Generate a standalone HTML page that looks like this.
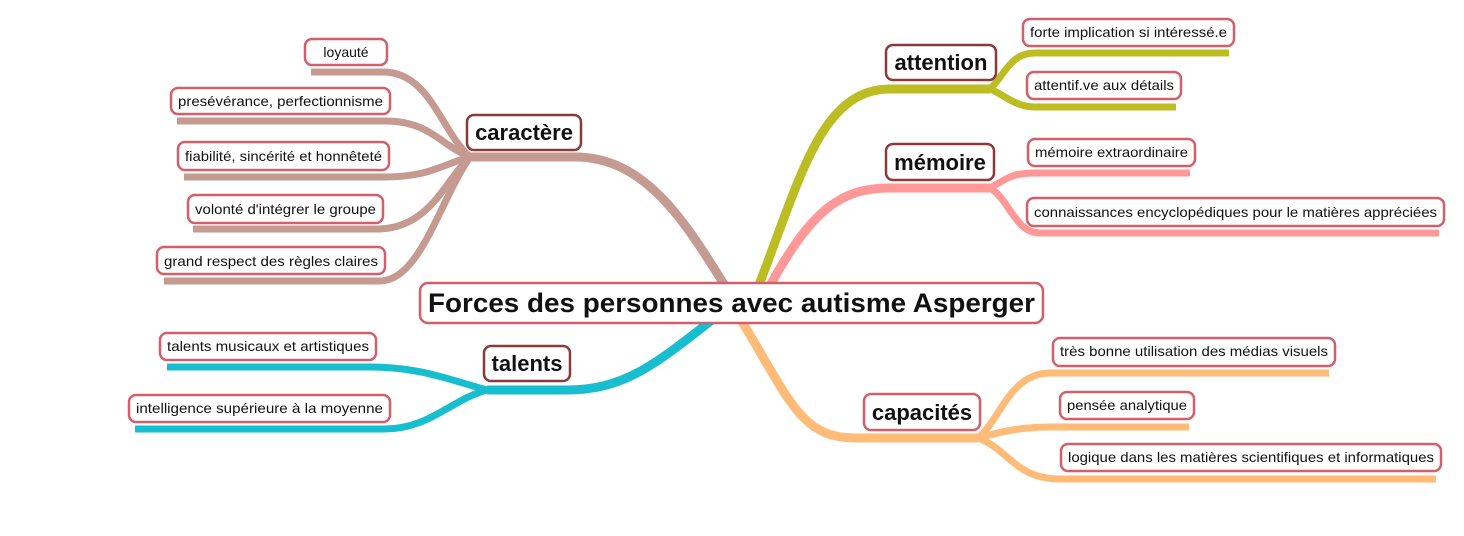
<!DOCTYPE html>
<html><head><meta charset="utf-8"><style>
html,body{margin:0;padding:0;background:#fff;width:1464px;height:536px;overflow:hidden}
svg{display:block}
text{font-family:"Liberation Sans",sans-serif;fill:#111}
.l{font-size:14px}
.c{font-size:22px;font-weight:bold}
.bl{fill:#fff;stroke:#d2606b;stroke-width:2.5}
.bc{fill:#fff;stroke:#8b3a3a;stroke-width:2.5}
path{fill:none;stroke-linecap:butt}
</style></head><body>
<svg width="1464" height="536" viewBox="0 0 1464 536" xmlns="http://www.w3.org/2000/svg">
<g stroke="#c49a91">
<path d="M735,302 C690,230 650,157 575,157" stroke-width="9"/>
<path d="M470,157 L575,157" stroke-width="9"/>
<path d="M311,72 L383,72 C430,72 440,130 470,157" stroke-width="7"/>
<path d="M177,121 L385,121 C430,121 440,145 470,157" stroke-width="7"/>
<path d="M184,177 L383,177 C430,177 440,165 470,157" stroke-width="7"/>
<path d="M193,229 L377,229 C430,229 445,180 470,157" stroke-width="7"/>
<path d="M164,281 L380,281 C420,281 440,200 470,157" stroke-width="7"/>
</g>
<g stroke="#17becf">
<path d="M735,302 C660,360 630,390 566,390" stroke-width="9"/>
<path d="M487,390 L566,390" stroke-width="9"/>
<path d="M167,367 L371,367 C420,367 450,380 487,390" stroke-width="7"/>
<path d="M135,429 L384,429 C430,429 450,400 487,390" stroke-width="7"/>
</g>
<g stroke="#bcbd22">
<path d="M757,290 C800,180 820,89 890,89" stroke-width="9"/>
<path d="M890,89 L990,89" stroke-width="9"/>
<path d="M990,89 C1005,75 1010,53 1035,53 L1229,53" stroke-width="7"/>
<path d="M990,89 C1005,95 1015,107 1035,107 L1176,107" stroke-width="7"/>
</g>
<g stroke="#ff9896">
<path d="M765,295 C810,210 840,188 890,188" stroke-width="9"/>
<path d="M890,188 L990,188" stroke-width="9"/>
<path d="M990,188 C1005,180 1010,173 1035,173 L1190,173" stroke-width="7"/>
<path d="M990,188 C1010,200 1015,233 1040,233 L1439,233" stroke-width="7"/>
</g>
<g stroke="#ffbb78">
<path d="M735,310 C790,400 800,438 855,438" stroke-width="9"/>
<path d="M855,438 L978,438" stroke-width="9"/>
<path d="M978,438 C1000,420 1010,373 1050,373 L1329,373" stroke-width="7"/>
<path d="M978,438 C1000,432 1020,427 1050,427 L1189,427" stroke-width="7"/>
<path d="M978,438 C1010,450 1015,479 1060,479 L1436,479" stroke-width="7"/>
</g>

<rect class="bl" x="420" y="283" width="623" height="40" rx="8"/>
<text x="731.5" y="312" text-anchor="middle" style="font-size:27px;font-weight:bold" textLength="607" lengthAdjust="spacingAndGlyphs">Forces des personnes avec autisme Asperger</text>

<rect class="bc" x="467" y="115" width="114" height="35" rx="7"/>
<text class="c" x="524" y="140" text-anchor="middle">caractère</text>
<rect class="bc" x="484" y="346" width="86" height="35" rx="7"/>
<text class="c" x="527" y="371" text-anchor="middle">talents</text>
<rect class="bc" x="886" y="45" width="110" height="35" rx="7"/>
<text class="c" x="941" y="70" text-anchor="middle">attention</text>
<rect class="bc" x="886" y="144" width="108" height="36" rx="7"/>
<text class="c" x="940" y="170" text-anchor="middle">mémoire</text>
<rect class="bl" x="864" y="394" width="116" height="36" rx="7"/>
<text class="c" x="922" y="420" text-anchor="middle">capacités</text>

<g class="l">
<rect class="bl" x="305" y="39" width="82" height="26" rx="7"/><text class="l" x="346" y="57" text-anchor="middle">loyauté</text>
<rect class="bl" x="171" y="88" width="219" height="26" rx="7"/><text class="l" x="280.5" y="106" text-anchor="middle" textLength="205" lengthAdjust="spacingAndGlyphs">presévérance, perfectionnisme</text>
<rect class="bl" x="178" y="142" width="211" height="28" rx="7"/><text class="l" x="283.5" y="161" text-anchor="middle" textLength="197" lengthAdjust="spacingAndGlyphs">fiabilité, sincérité et honnêteté</text>
<rect class="bl" x="188" y="195" width="195" height="28" rx="7"/><text class="l" x="285.5" y="214" text-anchor="middle" textLength="181" lengthAdjust="spacingAndGlyphs">volonté d'intégrer le groupe</text>
<rect class="bl" x="157" y="247" width="228" height="27" rx="7"/><text class="l" x="271" y="266" text-anchor="middle" textLength="214" lengthAdjust="spacingAndGlyphs">grand respect des règles claires</text>
<rect class="bl" x="160" y="333" width="216" height="27" rx="7"/><text class="l" x="268" y="351" text-anchor="middle" textLength="202" lengthAdjust="spacingAndGlyphs">talents musicaux et artistiques</text>
<rect class="bl" x="129" y="395" width="261" height="27" rx="7"/><text class="l" x="259.5" y="413" text-anchor="middle" textLength="247" lengthAdjust="spacingAndGlyphs">intelligence supérieure à la moyenne</text>
<rect class="bl" x="1023" y="19" width="211" height="27" rx="7"/><text class="l" x="1128.5" y="37" text-anchor="middle" textLength="197" lengthAdjust="spacingAndGlyphs">forte implication si intéressé.e</text>
<rect class="bl" x="1027" y="72" width="154" height="27" rx="7"/><text class="l" x="1104" y="90" text-anchor="middle" textLength="140" lengthAdjust="spacingAndGlyphs">attentif.ve aux détails</text>
<rect class="bl" x="1028" y="139" width="167" height="27" rx="7"/><text class="l" x="1111.5" y="157" text-anchor="middle" textLength="153" lengthAdjust="spacingAndGlyphs">mémoire extraordinaire</text>
<rect class="bl" x="1027" y="198" width="417" height="28" rx="7"/><text class="l" x="1235.5" y="217" text-anchor="middle" textLength="403" lengthAdjust="spacingAndGlyphs">connaissances encyclopédiques pour le matières appréciées</text>
<rect class="bl" x="1053" y="338" width="282" height="28" rx="7"/><text class="l" x="1194" y="356" text-anchor="middle" textLength="268" lengthAdjust="spacingAndGlyphs">très bonne utilisation des médias visuels</text>
<rect class="bl" x="1060" y="392" width="134" height="27" rx="7"/><text class="l" x="1127" y="410" text-anchor="middle" textLength="120" lengthAdjust="spacingAndGlyphs">pensée analytique</text>
<rect class="bl" x="1061" y="444" width="380" height="27" rx="7"/><text class="l" x="1251" y="462" text-anchor="middle" textLength="366" lengthAdjust="spacingAndGlyphs">logique dans les matières scientifiques et informatiques</text>
</g>
</svg>
</body></html>
